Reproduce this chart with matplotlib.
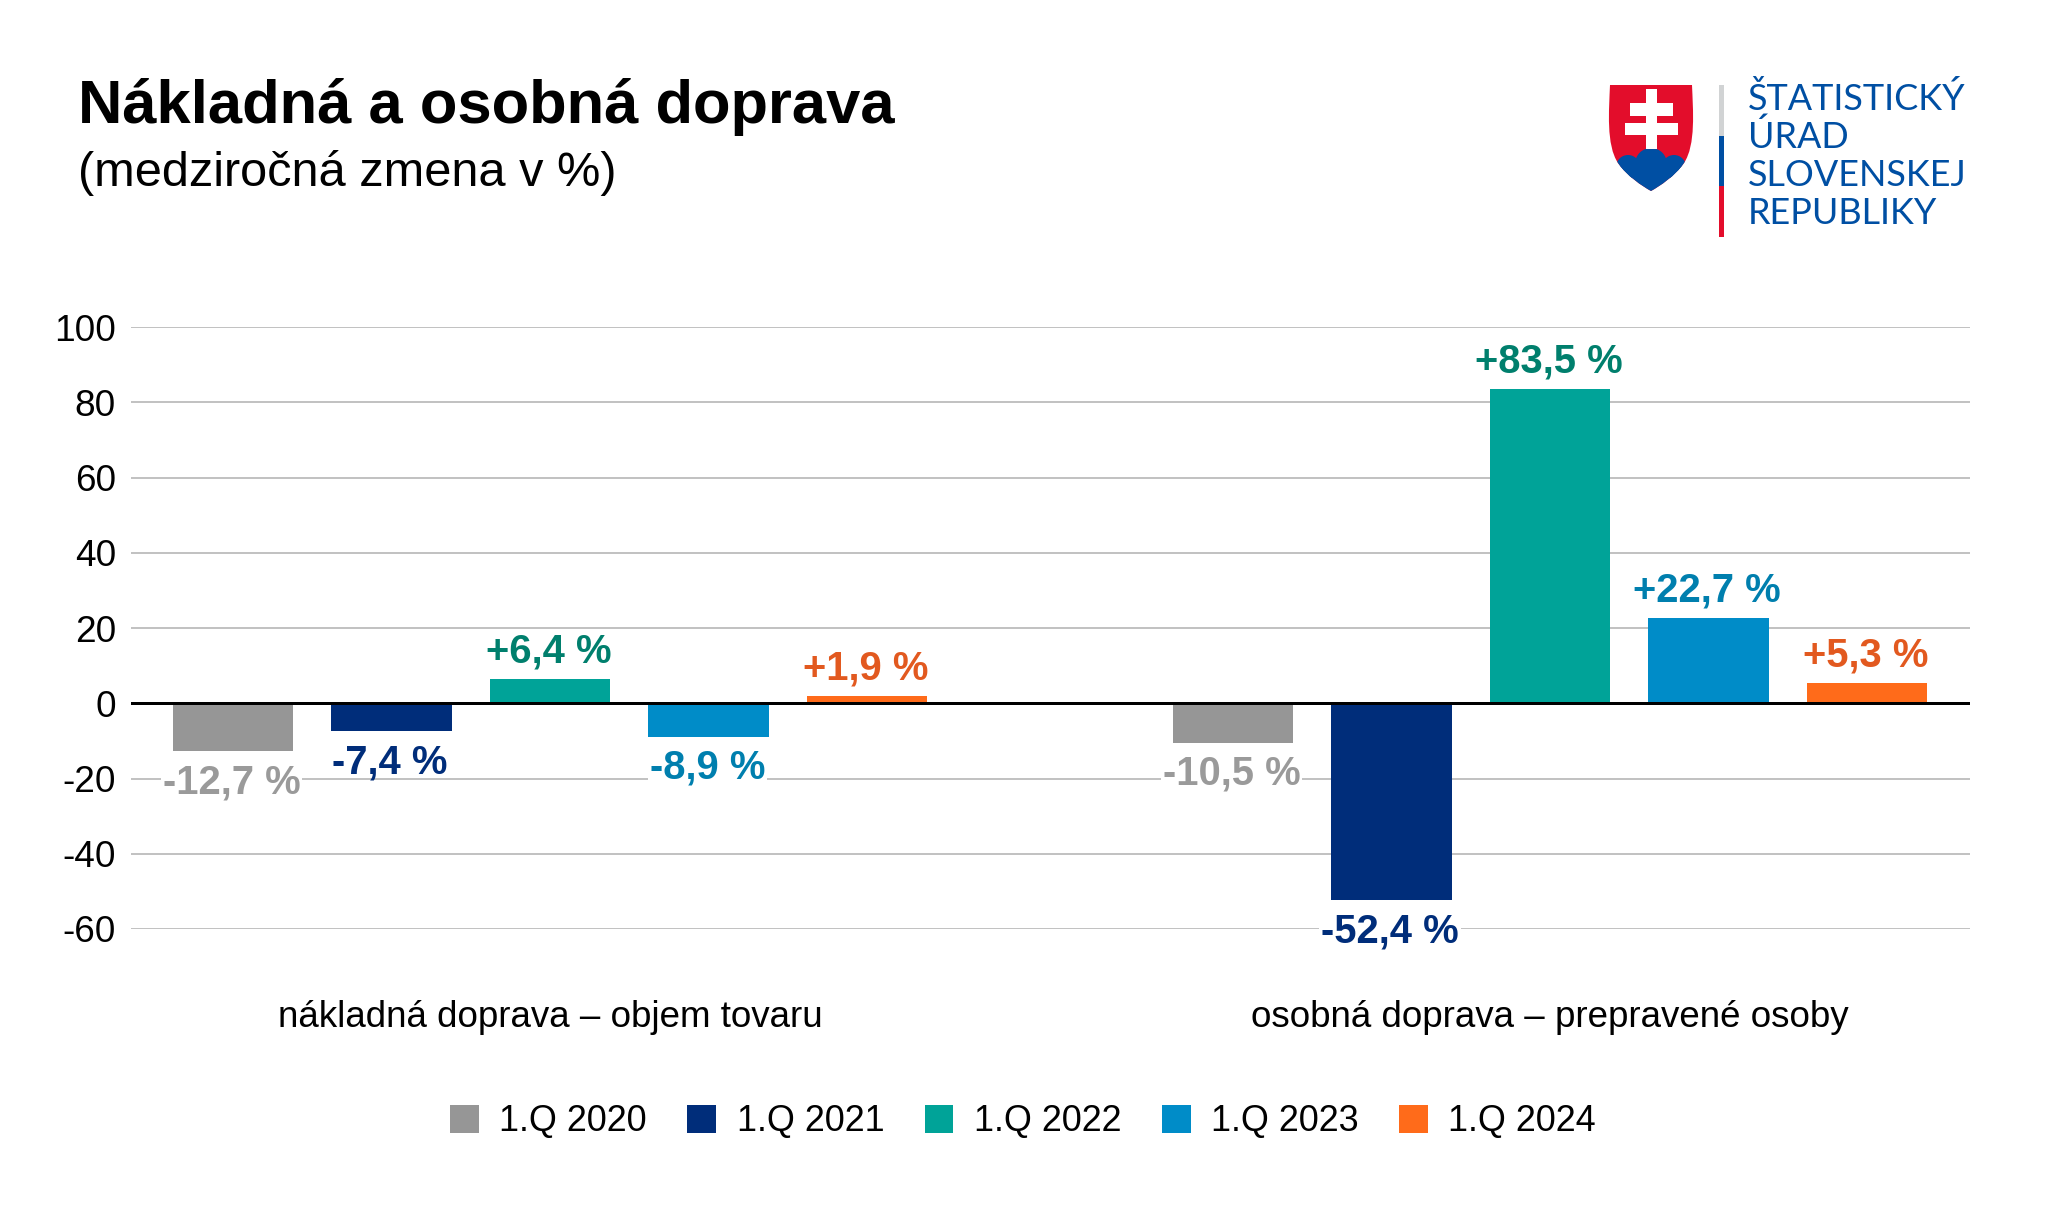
import matplotlib
matplotlib.use('Agg')
import matplotlib.pyplot as plt
import matplotlib.patches as patches
from matplotlib.path import Path

plt.rcParams['font.family'] = ['Liberation Sans', 'DejaVu Sans']
plt.rcParams['axes.unicode_minus'] = False

# Data
categories = ['nákladná doprava – objem tovaru', 'osobná doprava – prepravené osoby']
series_names = ['1.Q 2020', '1.Q 2021', '1.Q 2022', '1.Q 2023', '1.Q 2024']
freight = [-12.7, -7.4, 6.4, -8.9, 1.9]
passengers = [-10.5, -52.4, 83.5, 22.7, 5.3]
y_ticks = [-60, -40, -20, 0, 20, 40, 60, 80, 100]

bar_colors = ['#969696', '#002d7a', '#00a398', '#008cc8', '#ff6b1a']
label_colors = ['#9a9a9a', '#002d7a', '#007f6d', '#007fae', '#e2591f']

W, H = 2048, 1210
fig = plt.figure(figsize=(W / 100, H / 100), dpi=100, facecolor='white')


def px(size):
    return size * 0.72


# Main chart
ax = fig.add_axes([131 / W, 1 - 929 / H, (1970 - 131) / W, (929 - 327) / H])
ax.set_xlim(-0.419, 1.42)
ax.set_ylim(-60, 100)

step = 0.1586
width = 0.1205
for i, name in enumerate(series_names):
    offset = (i - 2) * step
    vals = [freight[i], passengers[i]]
    ax.bar([0 + offset, 1 + offset], vals, width, color=bar_colors[i], label=name, zorder=2)
    for x, v in zip([0 + offset, 1 + offset], vals):
        txt = ('+' if v > 0 else '') + f'{v:.1f}'.replace('.', ',') + ' %'
        # -7,4 % sits on the -20 gridline without cutting it
        box = None if v == -7.4 else dict(facecolor='white', edgecolor='none', pad=1.5)
        ax.annotate(txt, (x, v), xytext=(-1, px(27.5) if v > 0 else -px(31)),
                    textcoords='offset points', ha='center', va='center',
                    fontsize=px(40), fontweight='bold', color=label_colors[i], zorder=4,
                    bbox=box)

ax.axhline(0, color='black', linewidth=px(3), zorder=3)
ax.set_yticks(y_ticks)
ax.set_yticklabels([str(t) for t in y_ticks])
ax.yaxis.grid(True, color='#b4b4b4', linewidth=px(1.6), zorder=1)
ax.set_axisbelow(True)
ax.set_xticks([0, 1])
ax.set_xticklabels(categories)
ax.tick_params(axis='y', length=0, labelsize=px(37), pad=px(15))
ax.tick_params(axis='x', length=0, labelsize=px(36.8), pad=px(71))
for s in ax.spines.values():
    s.set_visible(False)

fig.legend(loc='center', bbox_to_anchor=(1023 / W, 1 - 1122 / H), ncol=5, frameon=False,
           fontsize=px(36), handlelength=0.8, handleheight=0.8, handletextpad=0.57,
           columnspacing=1.12, borderpad=0)

# Overlay in pixel coordinates for the title and logo
ov = fig.add_axes([0, 0, 1, 1], facecolor='none')
ov.set_xlim(0, W)
ov.set_ylim(H, 0)
ov.axis('off')
ov.text(78, 123, 'Nákladná a osobná doprava', fontsize=px(61.5), fontweight='bold', color='black')
ov.text(78, 186, '(medziročná zmena v %)', fontsize=px(48.8), color='black')

# Shield
shield_path = Path(
    [(1610, 85), (1692, 85),
     (1693, 110), (1696, 145), (1684, 163),
     (1675, 176), (1660, 186), (1651, 191),
     (1642, 186), (1627, 176), (1618, 163),
     (1606, 145), (1609, 110), (1610, 85), (1610, 85)],
    [Path.MOVETO, Path.LINETO,
     Path.CURVE4, Path.CURVE4, Path.CURVE4,
     Path.CURVE4, Path.CURVE4, Path.CURVE4,
     Path.CURVE4, Path.CURVE4, Path.CURVE4,
     Path.CURVE4, Path.CURVE4, Path.CURVE4, Path.CLOSEPOLY])
shield = patches.PathPatch(shield_path, facecolor='#e30d2b', edgecolor='none')
ov.add_patch(shield)
for shape in [patches.Rectangle((1600, 166), 100, 30, color='#004fa3', lw=0),
              patches.Circle((1651, 164), 16, color='#004fa3', lw=0),
              patches.Circle((1628, 167), 12, color='#004fa3', lw=0),
              patches.Circle((1674, 167), 12, color='#004fa3', lw=0)]:
    ov.add_patch(shape)
    shape.set_clip_path(shield_path, ov.transData)
for x, y, w, h in [(1646, 89, 11, 60), (1630, 103, 43, 13), (1625, 123, 53, 12)]:
    ov.add_patch(patches.Rectangle((x, y), w, h, color='white', lw=0))

# Divider
ov.add_patch(patches.Rectangle((1719, 85), 4.5, 51, color='#d1d3d4', lw=0))
ov.add_patch(patches.Rectangle((1719, 136), 4.5, 50, color='#004fa3', lw=0))
ov.add_patch(patches.Rectangle((1719, 186), 4.5, 51, color='#e30d2b', lw=0))

# Logo text
logo_lines = ['ŠTATISTICKÝ', 'ÚRAD', 'SLOVENSKEJ', 'REPUBLIKY']
logo_y = [110, 148, 186, 224]
for line, y in zip(logo_lines, logo_y):
    ov.text(1748, y, line, fontsize=px(36), color='#004fa3', family=['Lato', 'DejaVu Sans'])

fig.savefig('out.png', dpi=100, facecolor='white')
